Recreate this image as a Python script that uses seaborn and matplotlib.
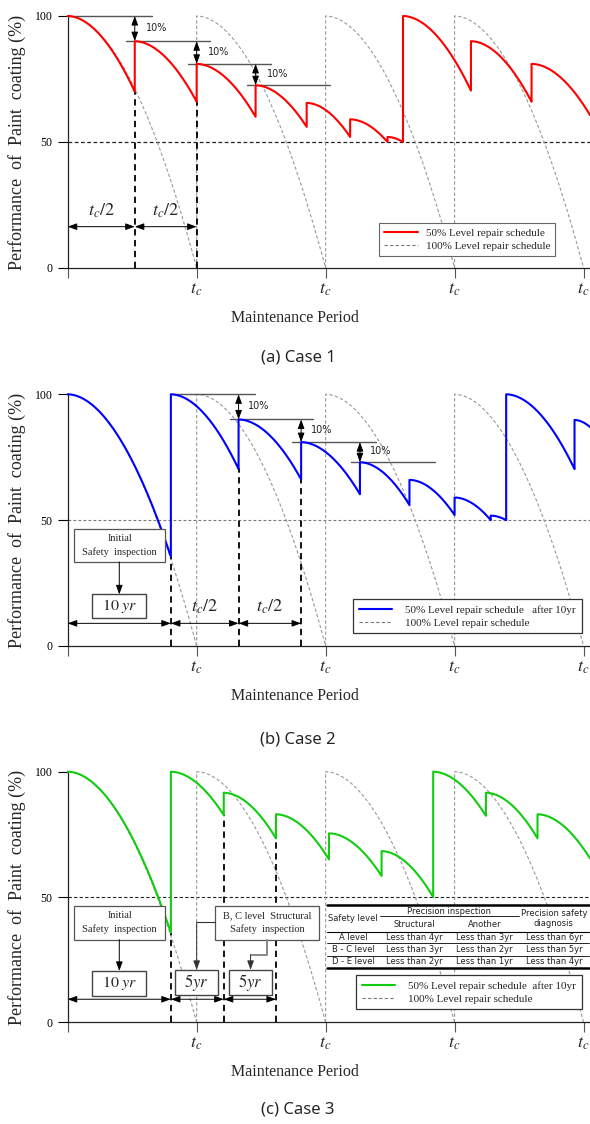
import numpy as np
import pandas as pd
import matplotlib
matplotlib.use("Agg")
import matplotlib.pyplot as plt
from matplotlib.lines import Line2D
from matplotlib.patches import Rectangle
import seaborn as sns

# ------------------------------------------------------------------ data
X_TICKS = [0, 1, 2, 3, 4]
X_TICK_LABELS = ["", "$t_c$", "$t_c$", "$t_c$", "$t_c$"]
Y_TICKS = [0, 50, 100]
Y_TICK_LABELS = ["0", "50", "100"]
T_END = 4.05
DECAY_EXP = 1.9
LIMIT_LEVEL = 50

full_restart = [0, 1, 2, 3]

case1_repair_t = [0, 0.52, 1.0, 1.457, 1.853, 2.19, 2.48, 2.60, 3.127, 3.597]
case1_start = [100, 90, 81, 72.5, 65.5, 59, 52, 100, 90, 81]
case1_end = [70, 66, 60, 56, 52, 50, 50, 70.4, 66, 60.7]

case2_repair_t = [0, 0.80, 1.325, 1.81, 2.266, 2.65, 3.0, 3.28, 3.40, 3.93]
case2_start = [100, 100, 90, 81, 73, 66, 59, 51.8, 100, 89.8]
case2_end = [35.5, 70.3, 66.2, 60.3, 56, 52, 50, 50, 70.3, 87]

case3_repair_t = [0, 0.80, 1.21, 1.615, 2.026, 2.434, 2.834, 3.243, 3.643]
case3_start = [100, 100, 91.6, 83, 75.4, 68.3, 100, 91.6, 83]
case3_end = [35.8, 82.7, 73.4, 65, 58.4, 50, 82.4, 73.4, 65.4]

captions = ["(a) Case 1", "(b) Case 2", "(c) Case 3"]
legend_50 = ["50% Level repair schedule",
             "50% Level repair schedule   after 10yr",
             "50% Level repair schedule  after 10yr"]
legend_100 = "100% Level repair schedule"
y_label = "Performance  of  Paint  coating (%)"
x_label = "Maintenance Period"

table_levels = ["A level", "B - C level", "D - E level"]
table_structural = ["Less than 4yr", "Less than 3yr", "Less than 2yr"]
table_another = ["Less than 3yr", "Less than 2yr", "Less than 1yr"]
table_diagnosis = ["Less than 6yr", "Less than 5yr", "Less than 4yr"]

# ------------------------------------------------------------------ style
sns.set_style("ticks")
plt.rcParams["font.family"] = ["Liberation Serif", "DejaVu Serif"]
plt.rcParams["mathtext.fontset"] = "stix"

COLORS = ["#ff0000", "#0000ff", "#11cc11"]
GRAY = "#999999"
SANS = ["DejaVu Sans"]


def decay_curve(t0, t1, p0, p1, n=40):
    s = np.linspace(0, 1, n)
    return t0 + s * (t1 - t0), p0 - (p0 - p1) * s ** DECAY_EXP


def schedule_frame(ts, p0s, p1s):
    bounds = list(ts[1:]) + [T_END]
    parts = []
    for t0, t1, p0, p1 in zip(ts, bounds, p0s, p1s):
        x, y = decay_curve(t0, t1, p0, p1)
        parts.append(pd.DataFrame({"t": x, "p": y}))
    return pd.concat(parts, ignore_index=True)


def full_frame():
    parts = []
    for k, s0 in enumerate(full_restart):
        span = min(1.0, T_END - s0)
        s = np.linspace(0, span, 80)
        t = np.concatenate([[s0], s0 + s])
        p = np.concatenate([[0 if s0 > 0 else 100], 100 * (1 - s ** DECAY_EXP)])
        parts.append(pd.DataFrame({"t": t, "p": p, "unit": k}))
    return pd.concat(parts, ignore_index=True)


def arrow(ax, x0, y0, x1, y1, style="<|-|>", color="k", lw=0.7):
    ax.annotate("", xy=(x1, y1), xytext=(x0, y0),
                arrowprops=dict(arrowstyle=style + ",head_length=0.55,head_width=0.2",
                                color=color, lw=lw, shrinkA=0, shrinkB=0,
                                mutation_scale=10),
                annotation_clip=False, zorder=6)


def text_box(ax, x0, x1, y0, y1, text, size=7.5, family=None, ec="#555555", lw=0.9):
    ax.add_patch(Rectangle((x0, y0), x1 - x0, y1 - y0, facecolor="white",
                           edgecolor=ec, lw=lw, zorder=5, clip_on=False))
    kw = dict(ha="center", va="center", fontsize=size, zorder=6, linespacing=1.55)
    if family:
        kw["family"] = family
    ax.text((x0 + x1) / 2, (y0 + y1) / 2, text, **kw)


def base_panel(ax, ts, p0s, p1s, color, limit_style, legend_label):
    ax.set_xlim(0, T_END)
    ax.set_ylim(0, 100)
    full = full_frame()
    sns.lineplot(data=full, x="t", y="p", units="unit", estimator=None, sort=False,
                 color=GRAY, lw=0.8, linestyle=(0, (3, 2)), ax=ax, legend=False,
                 clip_on=False, zorder=2)
    ax.axhline(LIMIT_LEVEL, **limit_style, zorder=1.5)
    sched = schedule_frame(ts, p0s, p1s)
    sns.lineplot(data=sched, x="t", y="p", estimator=None, sort=False, color=color,
                 lw=1.5, ax=ax, legend=False, clip_on=False, zorder=4)
    ax.set_xticks(X_TICKS)
    ax.set_xticklabels(X_TICK_LABELS, fontsize=13)
    ax.set_yticks(Y_TICKS)
    ax.set_yticklabels(Y_TICK_LABELS, fontsize=8.5)
    ax.tick_params(axis="y", direction="out", length=7, width=0.8, pad=4, colors="black")
    ax.tick_params(axis="x", direction="out", length=7, width=0.8, pad=2, color="#555555")
    for side in ["top", "right"]:
        ax.spines[side].set_visible(False)
    for side in ["left", "bottom"]:
        ax.spines[side].set_linewidth(0.9)
        ax.spines[side].set_color("#222222")
    ax.set_ylabel(y_label, fontsize=13)
    ax.yaxis.label.set_va("center")
    ax.yaxis.set_label_coords(-0.097, 0.5)
    ax.set_xlabel(x_label, fontsize=11.5)
    ax.xaxis.label.set_va("center")
    ax.xaxis.set_label_coords(0.435, -0.2)
    ax.grid(False)
    handles = [Line2D([], [], color=color, lw=1.5),
               Line2D([], [], color="#777777", lw=0.8, ls=(0, (3, 2)))]
    return handles


def repair_verticals(ax, ts, p1s, n):
    for i in range(1, n):
        ax.plot([ts[i], ts[i]], [0, p1s[i - 1]], color="black", lw=1.3,
                ls=(0, (3.5, 2.5)), zorder=3, clip_on=False)


def ten_percent(ax, ts, p0s, first, n, text_dx):
    for i in range(first, first + n):
        x0 = ts[i] if i == first else ts[i] - 0.07
        ax.plot([x0, x0 + 0.65], [p0s[i], p0s[i]], color="#555555", lw=1.0,
                zorder=3, clip_on=False)
    for i in range(first + 1, first + n):
        arrow(ax, ts[i], p0s[i - 1], ts[i], p0s[i])
        ax.text(ts[i] + text_dx, (p0s[i - 1] + p0s[i]) / 2 + 0.3, "10%",
                fontsize=7, family=SANS, ha="left", va="center", color="#222222")


def dimension(ax, bounds, level):
    for a, b in zip(bounds[:-1], bounds[1:]):
        arrow(ax, a, level, b, level)


fig = plt.figure(figsize=(5.9, 11.24), dpi=100)
left = 67.7 / 590
width = 1 - left
ax1 = fig.add_axes([left, 1 - 268 / 1124, width, 252 / 1124])
ax2 = fig.add_axes([left, 1 - 646 / 1124, width, 251.7 / 1124])
ax3 = fig.add_axes([left, 1 - 1022.3 / 1124, width, 250.6 / 1124])

# ---------------- Case 1
h = base_panel(ax1, case1_repair_t, case1_start, case1_end, COLORS[0],
               dict(color="#222222", lw=0.9, ls=(0, (3, 2))), legend_50[0])
repair_verticals(ax1, case1_repair_t, case1_end, 3)
ten_percent(ax1, case1_repair_t, case1_start, 0, 4, 0.085)
dimension(ax1, case1_repair_t[:3], 16.4)
for a, b in zip(case1_repair_t[:2], case1_repair_t[1:3]):
    ax1.text((a + b) / 2, 22.5, "$t_c/2$", fontsize=13, ha="center", va="center")
leg = ax1.legend(h, [legend_50[0], legend_100], loc="lower right",
                 bbox_to_anchor=(0.933, 0.049), borderaxespad=0, fontsize=8,
                 frameon=True, fancybox=False, framealpha=1, edgecolor="#666666",
                 handlelength=3.0, handletextpad=0.7, borderpad=0.45, labelspacing=0.3)
leg.get_frame().set_linewidth(0.8)
leg.set_zorder(10)

# ---------------- Case 2
h = base_panel(ax2, case2_repair_t, case2_start, case2_end, COLORS[1],
               dict(color="#777777", lw=0.8, ls=(0, (2.5, 2))), legend_50[1])
repair_verticals(ax2, case2_repair_t, case2_end, 4)
ten_percent(ax2, case2_repair_t, case2_start, 1, 4, 0.075)
dimension(ax2, case2_repair_t[:4], 9.0)
for a, b in zip(case2_repair_t[1:3], case2_repair_t[2:4]):
    ax2.text((a + b) / 2, 15.5, "$t_c/2$", fontsize=13, ha="center", va="center")
text_box(ax2, 0.05, 0.754, 33.4, 46.5, "Initial\nSafety  inspection")
arrow(ax2, 0.40, 33.4, 0.40, 20.5, style="-|>")
text_box(ax2, 0.19, 0.61, 11.0, 20.5, "$10\\ yr$", size=11.5, ec="#444444", lw=1.0)
leg = ax2.legend(h, [legend_50[1], legend_100], loc="lower right",
                 bbox_to_anchor=(0.984, 0.05), borderaxespad=0, fontsize=8,
                 frameon=True, fancybox=False, framealpha=1, edgecolor="#333333",
                 handlelength=3.0, handletextpad=1.2, borderpad=0.5, labelspacing=0.3)
leg.get_frame().set_linewidth(0.9)
leg.set_zorder(10)

# ---------------- Case 3
h = base_panel(ax3, case3_repair_t, case3_start, case3_end, COLORS[2],
               dict(color="#222222", lw=0.8, ls=(0, (3, 2))), legend_50[2])
repair_verticals(ax3, case3_repair_t, case3_end, 4)
dimension(ax3, case3_repair_t[:4], 9.2)
text_box(ax3, 0.05, 0.754, 33.0, 46.5, "Initial\nSafety  inspection")
arrow(ax3, 0.40, 33.0, 0.40, 20.5, style="-|>")
text_box(ax3, 0.19, 0.61, 10.5, 20.5, "$10\\ yr$", size=11.5, ec="#444444", lw=1.0)
text_box(ax3, 0.832, 1.167, 10.9, 20.9, "$5yr$", size=12, ec="#444444", lw=1.0)
text_box(ax3, 1.253, 1.586, 10.9, 20.9, "$5yr$", size=12, ec="#444444", lw=1.0)
text_box(ax3, 1.142, 1.95, 33.0, 46.5, "B, C level  Structural\nSafety  inspection")
ax3.plot([1.142, 1.0], [40, 40], color="#333333", lw=0.8, zorder=6, clip_on=False)
arrow(ax3, 1.0, 40, 1.0, 20.9, style="-|>", color="#333333")
ax3.plot([1.543, 1.543, 1.418], [33, 27, 27], color="#888888", lw=1.4, zorder=6,
         clip_on=False)
arrow(ax3, 1.418, 27, 1.418, 20.9, style="-|>", color="#333333")

# table
tx0, tx1 = 2.008, 4.04
ax3.add_patch(Rectangle((tx0, 21.8), tx1 - tx0, 25.0, facecolor="white",
                        edgecolor="none", zorder=6, clip_on=False))
for yv, lw in [(46.8, 1.8), (36.1, 0.8), (31.5, 0.6), (26.6, 0.6), (21.8, 1.8)]:
    ax3.plot([tx0, tx1], [yv, yv], color="black", lw=lw, zorder=7, clip_on=False)
ax3.plot([2.421, 3.50], [42.5, 42.5], color="black", lw=0.6, zorder=7, clip_on=False)
tkw = dict(fontsize=6.0, family=SANS, ha="center", va="center", zorder=8,
           color="#222222")
col_x = [2.214, 2.687, 3.23, 3.77]
ax3.text(col_x[0], 41.3, "Safety level", **tkw)
ax3.text(2.958, 44.3, "Precision inspection", **tkw)
ax3.text(col_x[3], 41.3, "Precision safety\ndiagnosis", linespacing=1.15, **tkw)
ax3.text(col_x[1], 39.0, "Structural", **tkw)
ax3.text(col_x[2], 39.0, "Another", **tkw)
for row_y, lv, s, a, d in zip([33.7, 29.0, 24.2], table_levels, table_structural,
                              table_another, table_diagnosis):
    for cx, txt in zip(col_x, [lv, s, a, d]):
        ax3.text(cx, row_y, txt, **tkw)

leg = ax3.legend(h, [legend_50[2], legend_100], loc="lower right",
                 bbox_to_anchor=(0.984, 0.052), borderaxespad=0, fontsize=8,
                 frameon=True, fancybox=False, framealpha=1, edgecolor="#333333",
                 handlelength=3.0, handletextpad=1.2, borderpad=0.5, labelspacing=0.3)
leg.get_frame().set_linewidth(0.9)
leg.set_zorder(10)

for yc, cap in zip([1 - 358 / 1124, 1 - 740 / 1124, 1 - 1110 / 1124], captions):
    fig.text(0.505, yc, cap, ha="center", va="center", fontsize=12,
             family=["Noto Sans", "DejaVu Sans"])

fig.savefig("out.png", dpi=100)
